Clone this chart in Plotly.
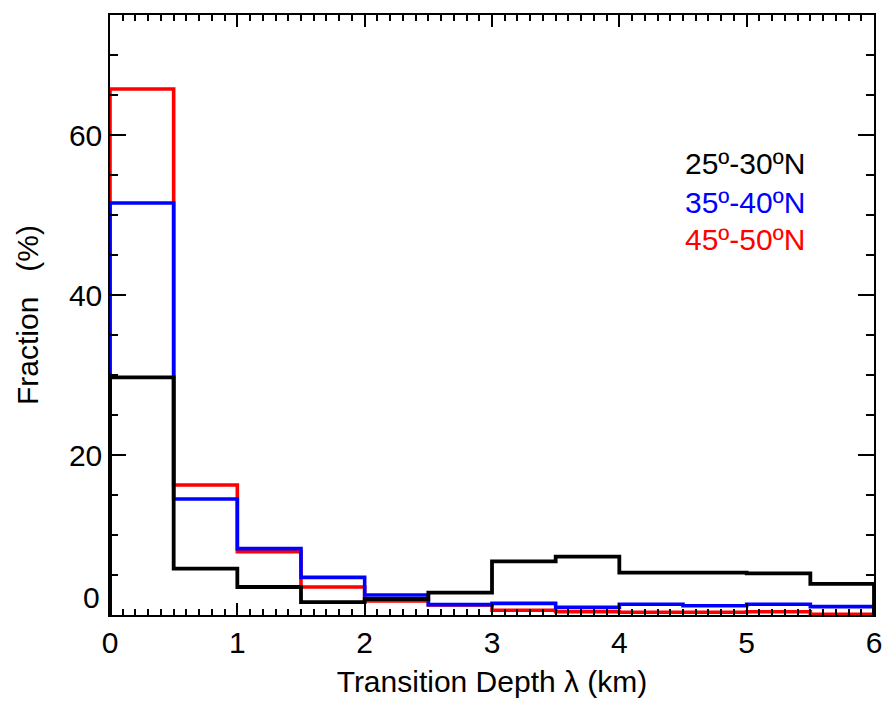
import plotly.graph_objects as go

bin_edges = [0, 0.5, 1, 1.5, 2, 2.5, 3, 3.5, 4, 4.5, 5, 5.5, 6]
frac_25_30 = [29.7, 5.8, 3.5, 1.6, 2.0, 2.8, 6.7, 7.3, 5.3, 5.3, 5.2, 3.9]
frac_35_40 = [51.5, 14.5, 8.3, 4.7, 2.5, 1.3, 1.45, 0.95, 1.35, 1.15, 1.35, 1.05]
frac_45_50 = [65.75, 16.25, 7.9, 3.5, 1.75, 1.25, 0.6, 0.4, 0.35, 0.35, 0.4, 0.1]
labels = ["25º-30ºN", "35º-40ºN", "45º-50ºN"]
colors = ["black", "#0000ff", "#ff0000"]

FONT = "Liberation Sans, Arial, Helvetica, sans-serif"
FS = 30

fig = go.Figure()

def step_xy(edges, vals):
    xs = [edges[0]] + list(edges) + [edges[-1]]
    ys = [0] + list(vals) + [vals[-1], 0]
    return xs, ys

series = [(frac_45_50, colors[2], 3.6), (frac_35_40, colors[1], 3.6), (frac_25_30, colors[0], 3.8)]
for vals, col, w in series:
    xs, ys = step_xy(bin_edges, vals)
    fig.add_trace(go.Scatter(x=xs, y=ys, mode="lines", line=dict(color=col, width=w, shape="hv"),
                             showlegend=False, hoverinfo="skip"))

label_y = [56.4, 51.6, 46.9]
for lab, col, ly in zip(labels, colors, label_y):
    fig.add_annotation(x=4.5, y=ly, xref="x", yref="y", text=lab, showarrow=False,
                       xanchor="left", yanchor="middle", font=dict(size=FS, color=col, family=FONT))

# displaced "0" y tick label
fig.add_annotation(x=0, y=2.25, xref="paper", yref="y", text="0", showarrow=False,
                   xanchor="right", yanchor="middle", xshift=-8, font=dict(size=FS, color="black", family=FONT))

fig.update_layout(
    width=894, height=707,
    margin=dict(l=110, r=13, t=15, b=92),
    paper_bgcolor="white", plot_bgcolor="white",
    font=dict(family=FONT, size=FS, color="black"),
)
fig.update_xaxes(
    range=[0, 6], tickvals=[0, 1, 2, 3, 4, 5, 6], ticks="inside", ticklen=12, tickwidth=1.5,
    tickcolor="black", showline=True, linecolor="black", linewidth=1.5, mirror="allticks",
    showgrid=False, zeroline=False, tickfont=dict(size=FS),
    minor=dict(dtick=0.1, ticks="inside", ticklen=6, tickwidth=1.5, tickcolor="black", showgrid=False),
    title=dict(text="Transition Depth λ (km)", font=dict(size=FS), standoff=13),
)
fig.update_yaxes(
    range=[0, 75], tickvals=[0, 20, 40, 60], ticktext=["", "20", "40", "60"], ticks="inside",
    ticklen=16, tickwidth=1.5, tickcolor="black", showline=True, linecolor="black", linewidth=1.5,
    mirror="allticks", showgrid=False, zeroline=False, tickfont=dict(size=FS),
    minor=dict(dtick=5, ticks="inside", ticklen=8, tickwidth=1.5, tickcolor="black", showgrid=False),
    title=dict(text="Fraction   (%)", font=dict(size=FS), standoff=21),
)

fig.write_html("out.html")
